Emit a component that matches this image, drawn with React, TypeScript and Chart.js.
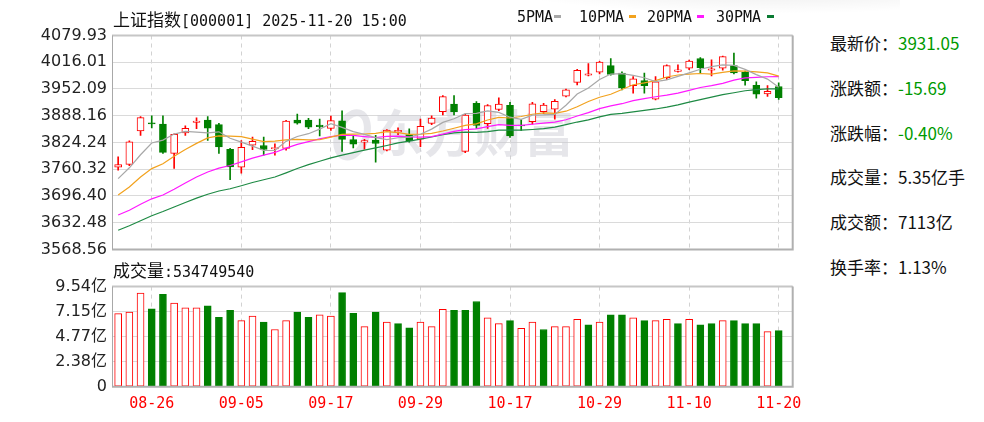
import React, { useEffect, useRef } from 'react';
import { Chart, registerables } from 'chart.js';

Chart.register(...registerables);

// ---------------- data ----------------
const DATES = ['08-21','08-22','08-25','08-26','08-27','08-28','08-29','09-01','09-02','09-03','09-04','09-05','09-08','09-09','09-10','09-11','09-12','09-15','09-16','09-17','09-18','09-19','09-22','09-23','09-24','09-25','09-26','09-29','09-30','10-09','10-10','10-13','10-14','10-15','10-16','10-17','10-20','10-21','10-22','10-23','10-24','10-27','10-28','10-29','10-30','10-31','11-03','11-04','11-05','11-06','11-07','11-10','11-11','11-12','11-13','11-14','11-17','11-18','11-19','11-20'];

const OPEN = [3765,3772,3852,3871,3868,3798,3847,3872,3878,3867,3808,3765,3818,3817,3809,3810,3878,3878,3866,3858,3876,3831,3825,3830,3806,3849,3843,3832,3870,3898,3916,3803,3918,3869,3903,3913,3866,3874,3898,3904,3935,3968,3985,3992,4008,3990,3960,3972,3928,3979,3994,4002,4025,3997,4002,4008,3992,3961,3940,3958];
const HIGH = [3790,3828,3886,3888,3888,3845,3864,3883,3886,3870,3810,3829,3837,3837,3821,3877,3892,3882,3880,3887,3900,3840,3832,3841,3855,3859,3857,3880,3888,3936,3936,3892,3922,3915,3931,3920,3879,3920,3918,3927,3952,3999,4013,4018,4025,3993,3982,3990,3982,4010,4010,4021,4027,4022,4031,4038,3995,3969,3960,3967];
const LOW = [3758,3769,3841,3859,3798,3762,3841,3857,3829,3798,3735,3751,3807,3794,3794,3806,3868,3857,3840,3853,3803,3811,3808,3777,3804,3843,3825,3814,3867,3890,3890,3800,3858,3858,3900,3836,3853,3868,3893,3880,3933,3962,3983,3988,3985,3950,3942,3942,3926,3975,3992,3998,3991,3983,3997,3988,3961,3930,3934,3927];
const CLOSE = [3771.10,3825.76,3883.56,3868.38,3800.35,3843.60,3857.93,3875.53,3858.13,3813.56,3765.88,3812.51,3826.84,3807.29,3812.22,3875.31,3870.60,3860.50,3861.87,3876.34,3831.66,3820.09,3828.58,3821.83,3853.64,3853.30,3828.11,3862.53,3882.78,3933.97,3897.03,3889.50,3865.23,3912.21,3916.23,3839.76,3863.89,3916.33,3913.76,3922.41,3950.31,3996.94,3988.22,4016.33,3986.90,3954.79,3976.52,3960.19,3969.25,4007.76,3997.56,4018.60,4002.76,4000.14,4029.50,3990.49,3972.03,3939.81,3946.74,3931.05];
const PREV_CLOSE = 3766.21;

// volume in 亿
const VOLUME = [6.97,7.12,8.92,7.43,8.80,7.96,7.52,7.52,7.71,6.60,7.28,6.29,6.73,6.17,5.45,6.29,7.12,6.60,6.85,6.73,8.96,7.00,5.73,7.12,6.17,6.01,5.61,6.17,5.73,7.38,7.28,7.28,8.12,6.57,6.01,6.29,5.57,6.17,5.45,5.73,5.73,6.41,5.89,6.17,6.85,6.85,6.57,6.29,6.29,6.41,6.01,6.41,5.89,6.01,6.29,6.29,6.01,6.01,5.25,5.35];

const MA5 = [3737.88,3763.68,3794.78,3823.00,3829.83,3844.33,3850.76,3849.16,3847.11,3849.75,3834.21,3825.12,3815.38,3805.22,3804.95,3826.83,3838.45,3845.18,3856.10,3868.92,3860.19,3850.09,3843.71,3835.70,3831.16,3835.49,3837.09,3843.88,3856.07,3872.14,3880.88,3893.16,3893.70,3899.59,3896.04,3884.59,3879.46,3889.68,3889.99,3891.23,3913.34,3939.95,3954.33,3974.84,3987.74,3988.64,3984.55,3978.95,3969.53,3973.70,3982.26,3990.67,3999.19,4005.36,4009.71,4008.30,3998.98,3986.39,3975.71,3956.02];
const MA10 = [3698.79,3717.85,3741.45,3761.70,3773.39,3791.11,3807.22,3821.97,3835.06,3839.79,3839.27,3837.94,3832.27,3826.16,3827.35,3830.52,3831.79,3830.28,3830.66,3836.94,3843.51,3844.27,3844.45,3845.90,3850.04,3847.84,3843.59,3843.80,3845.89,3851.65,3858.19,3865.13,3868.79,3877.83,3884.09,3882.74,3886.31,3891.69,3894.79,3893.64,3898.96,3909.71,3922.01,3932.42,3939.49,3950.99,3962.25,3966.64,3972.19,3980.72,3985.45,3987.61,3989.07,3987.45,3991.71,3995.28,3994.83,3992.79,3990.54,3982.87];
const MA20 = [3650.63,3662.24,3676.52,3689.45,3698.68,3712.20,3727.10,3741.71,3753.74,3762.72,3769.03,3777.90,3786.86,3793.93,3800.37,3810.81,3819.50,3826.13,3832.86,3838.36,3841.39,3841.11,3838.36,3836.03,3838.70,3839.18,3837.69,3837.04,3838.27,3844.29,3850.85,3854.70,3856.62,3861.87,3867.07,3865.29,3864.95,3867.74,3870.34,3872.64,3878.57,3887.42,3895.40,3905.12,3911.79,3916.86,3924.28,3929.17,3933.49,3937.18,3942.20,3948.66,3955.54,3959.93,3965.60,3973.13,3978.54,3979.71,3981.36,3981.79];
const MA30 = [3614.41,3624.93,3637.06,3649.17,3659.06,3669.95,3680.73,3691.26,3700.46,3708.17,3713.51,3720.81,3728.44,3735.02,3741.57,3751.64,3762.00,3771.24,3779.38,3787.46,3793.86,3800.02,3806.06,3811.25,3816.93,3823.16,3827.53,3832.02,3837.20,3842.79,3846.99,3849.11,3848.50,3849.96,3853.83,3853.70,3853.90,3855.26,3857.11,3860.74,3866.89,3873.04,3878.41,3885.38,3891.21,3893.85,3897.39,3900.71,3904.29,3908.67,3914.20,3920.82,3926.62,3932.57,3938.43,3943.00,3947.80,3950.37,3952.51,3952.41];

const PRICE_TICKS = [3568.56,3632.48,3696.40,3760.32,3824.24,3888.16,3952.09,4016.01,4079.93];
const PRICE_TICK_LABELS = ['3568.56','3632.48','3696.40','3760.32','3824.24','3888.16','3952.09','4016.01','4079.93'];
const VOL_TICKS = [0,2.385,4.77,7.155,9.54];
const VOL_TICK_LABELS = ['0','2.38亿','4.77亿','7.15亿','9.54亿'];
const AXIS_DATES = ['08-26','09-05','09-17','09-29','10-17','10-29','11-10','11-20'];

const MA_NAMES = ['5PMA','10PMA','20PMA','30PMA'];
const MA_COLORS = ['#a8a8a8','#f2a21e','#ff19ff','#1e8a44'];
const MA_LEGEND_COLORS = ['#a8a8a8','#f2a21e','#ff19ff','#0a7a32'];

const TITLE_CN = '上证指数';
const TITLE_REST = '[000001] 2025-11-20 15:00';
const VOL_TITLE_CN = '成交量';
const VOL_TITLE_REST = ':534749540';

const PANEL_LABELS = ['最新价：','涨跌额：','涨跌幅：','成交量：','成交额：','换手率：'];
const PANEL_VALUES = ['3931.05','-15.69','-0.40%','5.35亿手','7113亿','1.13%'];
const PANEL_COLORS = ['#009a00','#009a00','#009a00','#111111','#111111','#111111'];

// ---------------- styling / layout ----------------
const RED = '#ff0000';
const GREEN = '#008000';
const X_MIN = -0.55;
const X_MAX = 60.25;
const AXIS_IDX = AXIS_DATES.map(d => DATES.indexOf(d));
const IDX = DATES.map((_, i) => i);

const framePlugin = {
  id: 'frame',
  afterDraw(chart: any) {
    const { ctx, chartArea: a } = chart;
    ctx.save();
    ctx.lineWidth = 2;
    ctx.strokeStyle = '#c6c6c6';
    ctx.beginPath(); ctx.moveTo(a.left, a.top); ctx.lineTo(a.right, a.top); ctx.stroke();
    ctx.strokeStyle = '#b0b0b0';
    ctx.beginPath(); ctx.moveTo(a.right, a.top); ctx.lineTo(a.right, a.bottom); ctx.lineTo(a.left, a.bottom); ctx.stroke();
    ctx.lineWidth = 1;
    ctx.strokeStyle = '#a8a8a8';
    ctx.beginPath(); ctx.moveTo(a.left + 0.5, a.top); ctx.lineTo(a.left + 0.5, a.bottom); ctx.stroke();
    ctx.restore();
  },
};

const watermarkPlugin = {
  id: 'watermark',
  beforeDatasetsDraw(chart: any) {
    const { ctx, chartArea: a } = chart;
    ctx.save();
    ctx.fillStyle = 'rgba(200,200,208,0.45)';
    ctx.strokeStyle = 'rgba(200,200,208,0.45)';
    ctx.font = 'bold 50px "Noto Sans CJK SC"';
    ctx.textBaseline = 'middle';
    ctx.textAlign = 'left';
    const cx = a.left + (a.right - a.left) * 0.385;
    const cy = a.top + (a.bottom - a.top) * 0.455;
    ctx.fillText('东方财富', cx, cy);
    ctx.lineWidth = 7;
    ctx.beginPath();
    ctx.ellipse(cx - 22, cy + 2, 14, 23, 0.35, 0, Math.PI * 2);
    ctx.stroke();
    ctx.restore();
  },
};

function xScale(showLabels: boolean, height: number) {
  return {
    type: 'linear',
    min: X_MIN,
    max: X_MAX,
    offset: false,
    afterBuildTicks: (s: any) => { s.ticks = AXIS_IDX.map(v => ({ value: v })); },
    afterFit: (s: any) => { s.height = height; },
    grid: { color: '#d2d2d2', lineWidth: 1, drawTicks: false, offset: false },
    border: { display: false, dash: [4, 4] },
    ticks: {
      display: showLabels,
      autoSkip: false,
      maxRotation: 0,
      padding: 8,
      color: RED,
      font: { family: '"DejaVu Sans Mono"', size: 15 },
      callback: (v: any) => DATES[v] ?? '',
    },
  };
}

function yScale(ticks: number[], labels: string[]) {
  return {
    type: 'linear',
    min: ticks[0],
    max: ticks[ticks.length - 1],
    afterBuildTicks: (s: any) => { s.ticks = ticks.map(v => ({ value: v })); },
    afterFit: (s: any) => { s.width = 112; },
    grid: { color: '#dadada', lineWidth: 1, drawTicks: false },
    border: { display: false },
    ticks: {
      padding: 5,
      color: '#222',
      font: { family: '"DejaVu Sans", "Noto Sans CJK SC"', size: 16 },
      callback: (_v: any, i: number) => labels[i],
    },
  };
}

export default function App() {
  const priceRef = useRef<HTMLCanvasElement>(null);
  const volRef = useRef<HTMLCanvasElement>(null);

  useEffect(() => {
    const candleUp = IDX.map(i => CLOSE[i] >= OPEN[i]);
    const volUp = IDX.map(i => CLOSE[i] >= (i === 0 ? PREV_CLOSE : CLOSE[i - 1]));
    const maSeries = [MA5, MA10, MA20, MA30];

    const priceChart = new Chart(priceRef.current as HTMLCanvasElement, {
      type: 'bar',
      data: {
        datasets: [
          ...maSeries.map((s, k) => ({
            type: 'line' as const,
            label: MA_NAMES[k],
            data: IDX.map(i => ({ x: i, y: s[i] })),
            borderColor: MA_COLORS[k],
            borderWidth: 1.2,
            pointRadius: 0,
            tension: 0,
            order: k,
          })),
          {
            type: 'bar' as const,
            label: 'body',
            data: IDX.map(i => ({ x: i, y: [OPEN[i], CLOSE[i]] })),
            backgroundColor: candleUp.map(u => (u ? '#ffffff' : GREEN)),
            borderColor: candleUp.map(u => (u ? RED : GREEN)),
            borderWidth: 1,
            borderSkipped: false,
            barThickness: 7,
            grouped: false,
            order: 10,
          },
          {
            type: 'bar' as const,
            label: 'wick',
            data: IDX.map(i => ({ x: i, y: [LOW[i], HIGH[i]] })),
            backgroundColor: candleUp.map(u => (u ? RED : GREEN)),
            borderWidth: 0,
            barThickness: 1,
            grouped: false,
            order: 11,
          },
        ] as any,
      },
      options: {
        animation: false,
        responsive: false,
        devicePixelRatio: 1,
        layout: { padding: { top: 35.5, right: 17.3, left: 0, bottom: 0 } },
        plugins: { legend: { display: false }, tooltip: { enabled: false } },
        scales: {
          x: xScale(false, 11.7) as any,
          y: yScale(PRICE_TICKS, PRICE_TICK_LABELS) as any,
        },
      },
      plugins: [watermarkPlugin, framePlugin],
    });

    const volChart = new Chart(volRef.current as HTMLCanvasElement, {
      type: 'bar',
      data: {
        datasets: [
          {
            label: 'volume',
            data: IDX.map(i => ({ x: i, y: VOLUME[i] })),
            backgroundColor: volUp.map(u => (u ? '#ffffff' : GREEN)),
            borderColor: volUp.map(u => (u ? RED : GREEN)),
            borderWidth: 1,
            borderSkipped: false,
            barThickness: 7,
            grouped: false,
          },
        ] as any,
      },
      options: {
        animation: false,
        responsive: false,
        devicePixelRatio: 1,
        layout: { padding: { top: 12, right: 17.3, left: 0, bottom: 0 } },
        plugins: { legend: { display: false }, tooltip: { enabled: false } },
        scales: {
          x: xScale(true, 35.3) as any,
          y: yScale(VOL_TICKS, VOL_TICK_LABELS) as any,
        },
      },
      plugins: [framePlugin],
    });

    return () => {
      priceChart.destroy();
      volChart.destroy();
    };
  }, []);

  const legendText = [517, 579, 647, 716];
  const legendDash = [554, 629, 697, 767];

  return (
    <div style={{ position: 'absolute', left: 0, top: 0, width: 984, height: 422, background: '#ffffff', overflow: 'hidden', color: '#111' }}>
      <div style={{ position: 'absolute', left: 480, top: -30, width: 420, height: 44, background: 'radial-gradient(ellipse at 70% 30%, rgba(0,0,0,0.09), rgba(0,0,0,0) 70%)' }} />
      <canvas ref={priceRef} width={810} height={264} style={{ position: 'absolute', left: 0, top: 0, width: 810, height: 264 }} />
      <canvas ref={volRef} width={810} height={150} style={{ position: 'absolute', left: 0, top: 272, width: 810, height: 150 }} />

      <div style={{ position: 'absolute', left: 113, top: 7, height: 24, lineHeight: '24px', whiteSpace: 'nowrap' }}>
        <span style={{ fontFamily: '"Noto Sans CJK SC"', fontSize: 17 }}>{TITLE_CN}</span>
        <span style={{ fontFamily: '"DejaVu Sans Mono"', fontSize: 15 }}>{TITLE_REST}</span>
      </div>

      {MA_NAMES.map((n, k) => (
        <React.Fragment key={n}>
          <div style={{ position: 'absolute', left: legendText[k], top: 5, height: 24, lineHeight: '24px', fontFamily: '"DejaVu Sans Mono"', fontSize: 15, whiteSpace: 'nowrap' }}>{n}</div>
          <div style={{ position: 'absolute', left: legendDash[k], top: 15, width: 7, height: 3, background: MA_LEGEND_COLORS[k] }} />
        </React.Fragment>
      ))}

      <div style={{ position: 'absolute', left: 113, top: 258, height: 24, lineHeight: '24px', whiteSpace: 'nowrap' }}>
        <span style={{ fontFamily: '"Noto Sans CJK SC"', fontSize: 17 }}>{VOL_TITLE_CN}</span>
        <span style={{ fontFamily: '"DejaVu Sans Mono"', fontSize: 15 }}>{VOL_TITLE_REST}</span>
      </div>

      {PANEL_LABELS.map((l, k) => (
        <div key={l} style={{ position: 'absolute', left: 830, top: 43 + k * 44.8 - 13, height: 26, lineHeight: '26px', whiteSpace: 'nowrap', fontFamily: '"Noto Sans CJK SC"', fontSize: 17 }}>
          <span style={{ color: '#111' }}>{l}</span>
          <span style={{ color: PANEL_COLORS[k] }}>{PANEL_VALUES[k]}</span>
        </div>
      ))}
    </div>
  );
}
